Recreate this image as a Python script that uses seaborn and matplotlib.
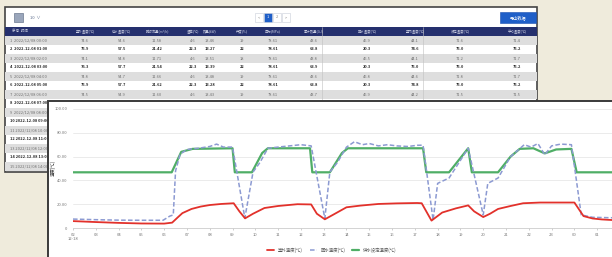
import matplotlib
matplotlib.use("Agg")
import matplotlib.pyplot as plt
from matplotlib.patches import Rectangle
import seaborn as sns

sns.set_theme(style="white")
plt.rcParams['font.family'] = ['Noto Sans CJK SC', 'DejaVu Sans']

# ---- line chart data (x in hours from first tick) ----
hour_labels = ["02\n12-18", "03", "04", "05", "06", "07", "08", "09", "10", "11", "12", "13",
               "14", "15", "16", "17", "18", "19", "20", "21", "22", "23", "00", "01"]
y_ticks = [0, 20, 40, 60, 80, 100]
y_tick_labels = ["0", "20.00", "40.00", "60.00", "80.00", "100.00"]

outdoor_x = [0, 1, 2, 3, 4.0, 4.35, 4.6, 4.8, 5.2, 5.6, 6.0, 6.5, 7.05, 7.3, 7.55, 7.9, 8.4, 9.0,
             9.85, 10.45, 10.7, 11.05, 11.4, 12.0, 12.6, 13.4, 14.2, 15.1, 15.3, 15.73, 16.2,
             16.8, 17.34, 17.6, 18.0, 18.3, 18.65, 19.2, 19.75, 20.5, 21.3, 22.0, 22.4, 22.8,
             23.2, 23.65]
outdoor_t = [5.8, 5.0, 4.3, 3.8, 3.7, 4.5, 9.0, 12.5, 16.0, 18.0, 19.3, 20.2, 20.8, 14.0, 8.1,
             12.0, 16.8, 18.5, 20.0, 19.8, 12.0, 7.3, 11.0, 17.4, 18.8, 20.2, 20.7, 21.0, 20.8,
             6.2, 13.0, 16.5, 19.0, 14.0, 9.2, 12.0, 16.0, 18.5, 20.8, 21.4, 21.4, 21.4, 10.0,
             8.0, 7.2, 6.7]

return_x = [0, 1, 2, 3, 3.95, 4.25, 4.4, 4.5, 4.7, 5.0, 5.5, 6.0, 6.3, 6.6, 7.0, 7.54, 7.9, 8.2,
            8.55, 9.0, 9.5, 10.0, 10.45, 11.05, 11.27, 11.6, 12.0, 12.35, 12.7, 13.0, 13.4,
            13.8, 14.2, 14.7, 15.1, 15.36, 15.8, 16.0, 16.5, 17.34, 18.0, 18.2, 18.65, 19.2,
            19.8, 20.1, 20.4, 20.7, 21.0, 21.4, 21.87, 22.3, 22.8, 23.65]
return_t = [7.5, 7.0, 6.6, 6.5, 6.5, 10.0, 11.0, 48.0, 62.0, 66.0, 67.0, 68.5, 70.5, 68.0, 68.0,
            8.4, 47.0, 55.0, 67.0, 68.0, 69.0, 70.0, 69.0, 8.0, 47.0, 55.0, 68.0, 72.5, 70.0,
            71.0, 69.0, 70.0, 69.0, 68.5, 69.5, 69.6, 6.7, 37.5, 42.0, 67.0, 11.0, 37.5, 42.0,
            60.0, 70.0, 68.0, 71.0, 61.5, 69.0, 70.5, 70.0, 11.0, 9.0, 8.6]

supply_x = [0, 4.33, 4.75, 5.25, 7.0, 7.1, 7.85, 8.3, 8.55, 10.4, 10.5, 11.27, 11.8, 12.06,
            15.36, 15.5, 16.5, 17.34, 17.5, 18.65, 19.2, 19.6, 20.2, 20.7, 21.2, 21.87, 22.1,
            23.65]
supply_t = [46.8, 46.8, 64.0, 66.5, 67.0, 46.8, 46.8, 63.0, 67.0, 67.0, 46.8, 46.8, 63.0, 67.0,
            67.0, 46.8, 46.8, 67.0, 46.8, 46.8, 60.0, 66.5, 67.0, 62.7, 66.0, 66.5, 46.8, 46.8]

series_labels = ["室外温度(℃)", "回水温度(℃)", "供水设定温度(℃)"]

# ---- table (background screenshot) data ----
table_header = ["序号  时间", "室外温度(℃)", "供水温度(℃)", "瞬时流量(m³/h)", "温差(℃)", "热量(kW)",
                "开度(%)", "压力(MPa)", "累计热量(GJ)", "回水温度(℃)", "室内温度(℃)",
                "设定温度(℃)", "平均温度(℃)"]
table_times = ["1  2022/12/08 00:00", "2  2022-12-08 01:00", "3  2022/12/08 02:00",
               "4  2022-12-08 03:00", "5  2022/12/08 04:00", "6  2022-12-08 05:00",
               "7  2022/12/08 06:00", "8  2022-12-08 07:00", "9  2022/12/08 08:00",
               "10 2022-12-08 09:00", "11 2022/12/08 10:00", "12 2022-12-08 11:00",
               "13 2022/12/08 12:00", "14 2022-12-08 13:00", "15 2022/12/08 14:00"]
table_rows = [
    ["74.6", "54.6", "11.58", "4.6", "13.46", "19", "78.61", "43.6", "46.9", "44.1", "71.6", "71.4"],
    ["75.9", "57.5", "21.42", "22.3", "13.27", "22", "78.61", "63.8", "20.3", "74.6", "75.0", "75.2"],
    ["74.1", "54.8", "11.71", "4.6", "13.51", "18", "78.61", "43.8", "46.5", "44.1", "71.2", "71.7"],
    ["76.3", "57.7", "21.54", "22.3", "13.39", "22", "78.61", "63.9", "20.3", "75.0", "75.0", "75.2"],
    ["74.8", "54.7", "11.66", "4.6", "13.48", "19", "78.61", "43.6", "46.8", "44.6", "71.8", "71.7"],
    ["75.9", "57.7", "21.62", "22.3", "13.28", "22", "78.61", "63.8", "20.3", "74.8", "75.0", "75.2"],
    ["74.5", "54.9", "11.60", "4.6", "13.43", "19", "78.61", "43.7", "46.9", "44.2", "71.5", "71.5"],
]

W, H = 612, 257
fig = plt.figure(figsize=(W / 100, H / 100), dpi=100, facecolor="#efebdc")

# background axes in pixel coordinates
bg = fig.add_axes([0, 0, 1, 1])
bg.set_xlim(0, W)
bg.set_ylim(H, 0)
bg.axis("off")

# table panel
bg.add_patch(Rectangle((5, 7), 532, 165, facecolor="white", edgecolor="#444444", lw=1.2))
bg.add_patch(Rectangle((14, 13), 9, 9, facecolor="#9aa6bb", edgecolor="#6d7a90", lw=0.5))
bg.text(30, 17.5, "10  ∨", fontsize=3, color="#5a6a8a", va="center")
for i, lab in enumerate(["<", "1", "2", ">"]):
    x0 = 255 + i * 9
    fc = "#1f5fc8" if lab == "1" else "white"
    bg.add_patch(Rectangle((x0, 13), 8, 9, facecolor=fc, edgecolor="#c8cdd8", lw=0.4))
    bg.text(x0 + 4, 17.5, lab, fontsize=2.8, color="white" if lab == "1" else "#888888",
            ha="center", va="center")
bg.add_patch(Rectangle((500, 12), 36, 11, facecolor="#1f5fc8", edgecolor="#1a4fb0", lw=0.4))
bg.text(518, 17.5, "导出数据", fontsize=3, color="white", ha="center", va="center")

col_x = [85, 122, 157, 193, 210, 242, 273, 314, 367, 415, 460, 517]
bg.add_patch(Rectangle((5, 27), 532, 9, facecolor="#25306e", edgecolor="none"))
bg.text(12, 31.5, table_header[0], fontsize=2.6, color="#c8cce0", va="center")
for cx, lab in zip(col_x, table_header[1:]):
    bg.text(cx, 31.5, lab, fontsize=2.4, color="#c8cce0", ha="center", va="center")
for i, t in enumerate(table_times):
    y0 = 36 + 9 * i
    odd = i % 2 == 0
    if odd:
        bg.add_patch(Rectangle((5, y0), 532, 9, facecolor="#dedede", edgecolor="none"))
    tc = "#707070" if odd else "#2a2a2a"
    fw = "normal" if odd else "bold"
    bg.text(10, y0 + 4.5, t, fontsize=2.9, color=tc, va="center", fontweight=fw)
    if i < len(table_rows):
        for cx, v in zip(col_x, table_rows[i]):
            bg.text(cx, y0 + 4.5, v, fontsize=2.9, color=tc, ha="center", va="center",
                    fontweight=fw)
for sx in [322, 423]:
    bg.plot([sx, sx], [27, 100], color="#c0c0c0", lw=0.4)

# chart panel in front
bg.add_patch(Rectangle((48, 101), 600, 170, facecolor="white", edgecolor="#3a3a3a", lw=1.4,
                       zorder=10))

# line chart
ax = fig.add_axes([73 / W, 1 - 228 / H, (W - 73) / W, (228 - 109) / H])
ax.set_facecolor("none")
sns.lineplot(x=supply_x, y=supply_t, ax=ax, color="#4fae66", lw=1.6, label=series_labels[2])
sns.lineplot(x=return_x, y=return_t, ax=ax, color="#8c9ad2", lw=1.1, linestyle=(0, (3, 1.5)),
             label=series_labels[1])
sns.lineplot(x=outdoor_x, y=outdoor_t, ax=ax, color="#e2312b", lw=1.3, label=series_labels[0])

ax.set_xlim(0, 23.65)
ax.set_ylim(0, 100)
ax.set_xticks(range(len(hour_labels)))
ax.set_xticklabels(hour_labels)
ax.set_yticks(y_ticks)
ax.set_yticklabels(y_tick_labels)
ax.grid(axis="y", color="#e8e8e8", lw=0.6)
for s in ["left", "top", "right"]:
    ax.spines[s].set_visible(False)
ax.spines["bottom"].set_color("#cccccc")
ax.spines["bottom"].set_linewidth(0.6)
ax.tick_params(axis="x", length=1.5, width=0.5, color="#bbbbbb", labelsize=3, labelcolor="#777777",
               pad=2, bottom=True)
ax.tick_params(axis="y", length=0, labelsize=3, labelcolor="#777777", pad=4)
ax.set_xlabel("")
ax.set_ylabel("")
fig.text(53 / W, 1 - 168 / H, "温度(℃)", rotation=90, fontsize=3.2, color="#333333",
         ha="center", va="center")

handles, labels = ax.get_legend_handles_labels()
order = [2, 1, 0]
ax.legend([handles[i] for i in order], [labels[i] for i in order], loc="center",
          bbox_to_anchor=(0.48, -0.185), ncol=3, frameon=False, fontsize=3.2,
          handlelength=1.6, columnspacing=1.6, labelcolor="#555555")

fig.savefig("out.png", dpi=100, facecolor=fig.get_facecolor())
